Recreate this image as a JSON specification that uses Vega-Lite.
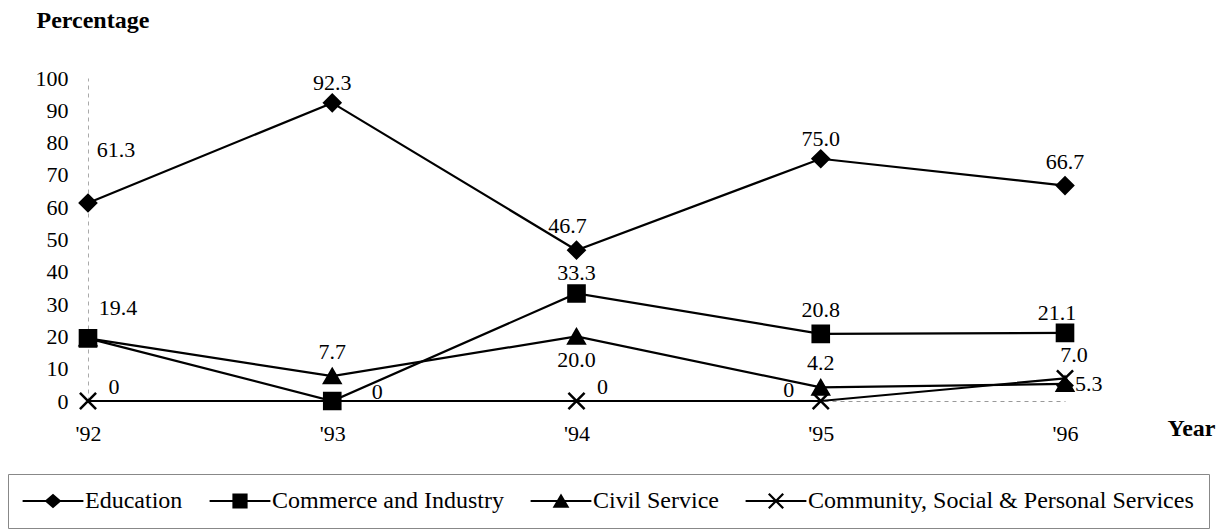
{
  "$schema": "https://vega.github.io/schema/vega-lite/v6.json",
  "width": 977,
  "height": 323,
  "autosize": {"type": "none"},
  "padding": {"left": 88, "top": 78, "right": 167, "bottom": 131},
  "background": "white",
  "config": {
    "view": {"stroke": null},
    "font": "Liberation Serif",
    "text": {"font": "Liberation Serif", "fontSize": 22, "color": "black", "baseline": "middle"}
  },
  "data": {
    "values": [
      {"year": "'92", "series": "Education", "value": 61.3, "label": "61.3"},
      {"year": "'93", "series": "Education", "value": 92.3, "label": "92.3"},
      {"year": "'94", "series": "Education", "value": 46.7, "label": "46.7"},
      {"year": "'95", "series": "Education", "value": 75.0, "label": "75.0"},
      {"year": "'96", "series": "Education", "value": 66.7, "label": "66.7"},
      {"year": "'92", "series": "Commerce and Industry", "value": 19.4, "label": "19.4"},
      {"year": "'93", "series": "Commerce and Industry", "value": 0, "label": "0"},
      {"year": "'94", "series": "Commerce and Industry", "value": 33.3, "label": "33.3"},
      {"year": "'95", "series": "Commerce and Industry", "value": 20.8, "label": "20.8"},
      {"year": "'96", "series": "Commerce and Industry", "value": 21.1, "label": "21.1"},
      {"year": "'92", "series": "Civil Service", "value": 19.4, "label": "19.4"},
      {"year": "'93", "series": "Civil Service", "value": 7.7, "label": "7.7"},
      {"year": "'94", "series": "Civil Service", "value": 20.0, "label": "20.0"},
      {"year": "'95", "series": "Civil Service", "value": 4.2, "label": "4.2"},
      {"year": "'96", "series": "Civil Service", "value": 5.3, "label": "5.3"},
      {"year": "'92", "series": "Community, Social & Personal Services", "value": 0, "label": "0"},
      {"year": "'93", "series": "Community, Social & Personal Services", "value": 0, "label": "0"},
      {"year": "'94", "series": "Community, Social & Personal Services", "value": 0, "label": "0"},
      {"year": "'95", "series": "Community, Social & Personal Services", "value": 0, "label": "0"},
      {"year": "'96", "series": "Community, Social & Personal Services", "value": 7.0, "label": "7.0"}
    ]
  },
  "encoding": {
    "x": {
      "field": "year", "type": "ordinal", "sort": null,
      "scale": {"type": "point", "padding": 0},
      "axis": {
        "title": "Year", "labelAngle": 0, "labelFont": "Liberation Serif", "labelFontSize": 22, "labelColor": "black",
        "labelPadding": 22, "ticks": false, "domainColor": "#999", "domainDash": [4, 4], "domainWidth": 1,
        "titleFont": "Liberation Serif", "titleFontSize": 24, "titleFontWeight": "bold", "titleColor": "black",
        "titleX": 1079, "titleY": 27, "titleAlign": "left", "titleBaseline": "middle", "titleAngle": 0
      }
    },
    "y": {
      "field": "value", "type": "quantitative",
      "scale": {"domain": [0, 100], "nice": false},
      "axis": {
        "title": "Percentage", "values": [0, 10, 20, 30, 40, 50, 60, 70, 80, 90, 100],
        "labelFont": "Liberation Serif", "labelFontSize": 22, "labelColor": "black", "labelPadding": 20,
        "ticks": false, "grid": false, "domainColor": "#aaa", "domainDash": [4, 4], "domainWidth": 1,
        "titleFont": "Liberation Serif", "titleFontSize": 24, "titleFontWeight": "bold", "titleColor": "black",
        "titleAngle": 0, "titleX": -52, "titleY": -58, "titleAlign": "left", "titleBaseline": "middle"
      }
    }
  },
  "resolve": {"scale": {"shape": "independent"}, "legend": {"shape": "independent"}},
  "layer": [
    {
      "mark": {"type": "line", "color": "black", "strokeWidth": 2.2},
      "encoding": {"detail": {"field": "series", "type": "nominal"}}
    },
    {
      "mark": {"type": "point", "filled": true, "fill": "black", "stroke": "black", "strokeWidth": 2.5, "size": 260, "opacity": 1},
      "encoding": {
        "shape": {
          "field": "series", "type": "nominal",
          "scale": {
            "domain": ["Education", "Commerce and Industry", "Civil Service", "Community, Social & Personal Services"],
            "range": ["diamond", "square", "triangle-up", "M-1,-1L1,1M-1,1L1,-1"]
          },
          "legend": null
        }
      }
    },
    {
      "transform": [{"filter": "datum.value < 0"}],
      "mark": {"type": "point", "filled": true, "color": "black", "opacity": 1},
      "encoding": {
        "shape": {
          "field": "series", "type": "nominal",
          "scale": {
            "domain": ["Education", "Commerce and Industry", "Civil Service", "Community, Social & Personal Services"],
            "range": [
              "M-3.8,-0.12L3.8,-0.12L3.8,0.12L-3.8,0.12ZM-1.05,0L0,-0.9L1.05,0L0,0.9Z",
              "M-3.8,-0.12L3.8,-0.12L3.8,0.12L-3.8,0.12ZM-0.95,-0.95L0.95,-0.95L0.95,0.95L-0.95,0.95Z",
              "M-3.8,-0.12L3.8,-0.12L3.8,0.12L-3.8,0.12ZM0,-0.95L1.05,0.85L-1.05,0.85Z",
              "M-3.8,-0.12L3.8,-0.12L3.8,0.12L-3.8,0.12ZM-0.8,-1L1,0.8L0.8,1L-1,-0.8ZM-1,0.8L0.8,-1L1,-0.8L-0.8,1Z"
            ]
          },
          "legend": {
            "title": null, "orient": "none", "legendX": -80, "legendY": 396, "direction": "horizontal",
            "padding": 15, "strokeColor": "#888", "columnPadding": 26,
            "symbolSize": 256, "symbolOffset": 18, "labelOffset": 20,
            "symbolStrokeWidth": 0, "symbolFillColor": "black", "symbolOpacity": 1,
            "labelFont": "Liberation Serif", "labelFontSize": 24, "labelColor": "black", "labelLimit": 600
          }
        }
      }
    },
    {
      "transform": [{"filter": {"or": [
        {"and": [{"field": "series", "equal": "Education"}, {"field": "year", "oneOf": ["'93", "'95"]}]},
        {"and": [{"field": "series", "equal": "Commerce and Industry"}, {"field": "year", "equal": "'94"}]}
      ]}}],
      "mark": {"type": "text", "dy": -20},
      "encoding": {"text": {"field": "label"}}
    },
    {
      "transform": [{"filter": {"or": [
        {"and": [{"field": "series", "equal": "Education"}, {"field": "year", "equal": "'96"}]},
        {"and": [{"field": "series", "equal": "Commerce and Industry"}, {"field": "year", "equal": "'95"}]},
        {"and": [{"field": "series", "equal": "Civil Service"}, {"field": "year", "oneOf": ["'93", "'95"]}]}
      ]}}],
      "mark": {"type": "text", "dy": -24},
      "encoding": {"text": {"field": "label"}}
    },
    {
      "transform": [{"filter": {"and": [{"field": "series", "equal": "Education"}, {"field": "year", "equal": "'94"}]}}],
      "mark": {"type": "text", "dx": -9, "dy": -24},
      "encoding": {"text": {"field": "label"}}
    },
    {
      "transform": [{"filter": {"and": [{"field": "series", "equal": "Commerce and Industry"}, {"field": "year", "equal": "'96"}]}}],
      "mark": {"type": "text", "dx": -8, "dy": -20},
      "encoding": {"text": {"field": "label"}}
    },
    {
      "transform": [{"filter": {"and": [{"field": "series", "equal": "Community, Social & Personal Services"}, {"field": "year", "equal": "'96"}]}}],
      "mark": {"type": "text", "dx": 9, "dy": -23},
      "encoding": {"text": {"field": "label"}}
    },
    {
      "transform": [{"filter": {"and": [{"field": "series", "equal": "Education"}, {"field": "year", "equal": "'92"}]}}],
      "mark": {"type": "text", "dx": 28, "dy": -53},
      "encoding": {"text": {"field": "label"}}
    },
    {
      "transform": [{"filter": {"and": [{"field": "series", "equal": "Commerce and Industry"}, {"field": "year", "equal": "'92"}]}}],
      "mark": {"type": "text", "dx": 30, "dy": -30},
      "encoding": {"text": {"field": "label"}}
    },
    {
      "transform": [{"filter": {"and": [{"field": "series", "equal": "Commerce and Industry"}, {"field": "year", "equal": "'93"}]}}],
      "mark": {"type": "text", "dx": 45, "dy": -9},
      "encoding": {"text": {"field": "label"}}
    },
    {
      "transform": [{"filter": {"and": [{"field": "series", "equal": "Community, Social & Personal Services"}, {"field": "year", "oneOf": ["'92", "'94"]}]}}],
      "mark": {"type": "text", "dx": 26, "dy": -14},
      "encoding": {"text": {"field": "label"}}
    },
    {
      "transform": [{"filter": {"and": [{"field": "series", "equal": "Community, Social & Personal Services"}, {"field": "year", "equal": "'95"}]}}],
      "mark": {"type": "text", "dx": -32, "dy": -11},
      "encoding": {"text": {"field": "label"}}
    },
    {
      "transform": [{"filter": {"and": [{"field": "series", "equal": "Civil Service"}, {"field": "year", "equal": "'94"}]}}],
      "mark": {"type": "text", "dy": 24},
      "encoding": {"text": {"field": "label"}}
    },
    {
      "transform": [{"filter": {"and": [{"field": "series", "equal": "Civil Service"}, {"field": "year", "equal": "'96"}]}}],
      "mark": {"type": "text", "dx": 10, "dy": 0, "align": "left"},
      "encoding": {"text": {"field": "label"}}
    }
  ]
}
